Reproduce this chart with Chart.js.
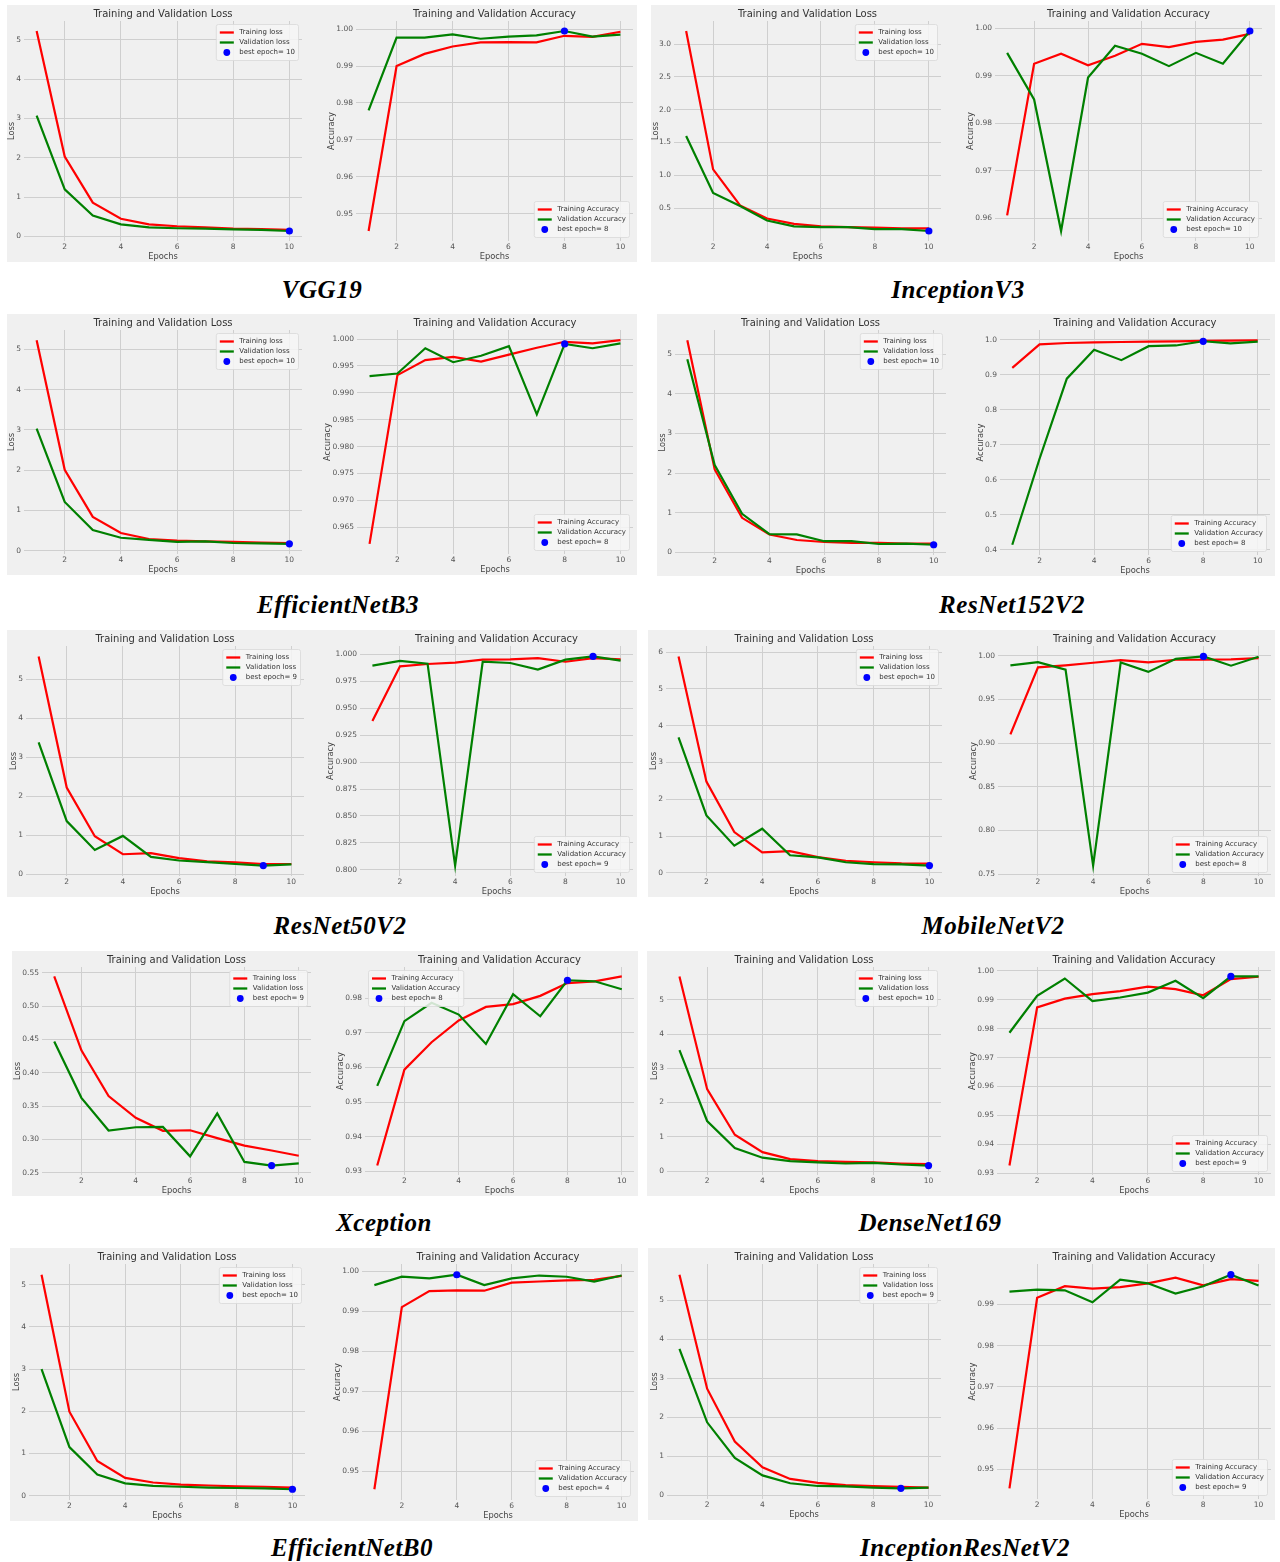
<!DOCTYPE html>
<html>
<head>
<meta charset="utf-8">
<title>Training and Validation curves</title>
<script src="https://cdn.jsdelivr.net/npm/chart.js@4.4.1/dist/chart.umd.min.js"></script>
<style>
html,body{margin:0;padding:0;background:#ffffff;}
body{position:relative;width:1280px;height:1562px;overflow:hidden;}
.panel{position:absolute;background:#f0f0f0;}
.panel canvas{position:absolute;top:0;}
.model{position:absolute;transform:translate(-50%,-50%);font-family:"Liberation Serif","DejaVu Serif",serif;font-weight:bold;font-style:italic;font-size:25px;letter-spacing:0.5px;color:#000;white-space:nowrap;line-height:1;}
</style>
</head>
<body>
<script>
// ---------------- DATA ----------------
const epochs = [1,2,3,4,5,6,7,8,9,10];
const epochTicks = [2,4,6,8,10];
const modelNames = ['VGG19','InceptionV3','EfficientNetB3','ResNet152V2','ResNet50V2','MobileNetV2','Xception','DenseNet169','EfficientNetB0','InceptionResNetV2'];

const vgg19TrainLoss = [5.22,2.03,0.86,0.45,0.31,0.26,0.23,0.20,0.19,0.17];
const vgg19ValLoss   = [3.07,1.20,0.53,0.31,0.23,0.21,0.20,0.18,0.17,0.14];
const vgg19TrainAcc  = [0.9453,0.9900,0.9933,0.9953,0.9964,0.9965,0.9964,0.9982,0.9979,0.9993];
const vgg19ValAcc    = [0.9780,0.9977,0.9977,0.9986,0.9974,0.9980,0.9983,0.9995,0.9980,0.9985];

const inceptionV3TrainLoss = [3.20,1.09,0.54,0.34,0.26,0.22,0.21,0.20,0.19,0.19];
const inceptionV3ValLoss   = [1.60,0.73,0.53,0.31,0.22,0.21,0.21,0.18,0.18,0.15];
const inceptionV3TrainAcc  = [0.9606,0.9925,0.9946,0.9922,0.9942,0.9967,0.9960,0.9971,0.9976,0.9988];
const inceptionV3ValAcc    = [0.9948,0.9850,0.9573,0.9896,0.9963,0.9946,0.9920,0.9948,0.9925,0.9994];

const effB3TrainLoss = [5.23,2.01,0.84,0.44,0.29,0.25,0.23,0.22,0.20,0.19];
const effB3ValLoss   = [3.03,1.21,0.51,0.32,0.27,0.22,0.23,0.19,0.18,0.17];
const effB3TrainAcc  = [0.9619,0.9933,0.9961,0.9967,0.9958,0.9971,0.9984,0.9995,0.9992,0.9998];
const effB3ValAcc    = [0.9931,0.9936,0.9983,0.9957,0.9969,0.9987,0.9860,0.9991,0.9983,0.9992];

const resNet152TrainLoss = [5.35,2.09,0.87,0.45,0.31,0.26,0.24,0.24,0.22,0.22];
const resNet152ValLoss   = [4.87,2.20,0.97,0.46,0.45,0.28,0.28,0.21,0.22,0.19];
const resNet152TrainAcc  = [0.920,0.987,0.991,0.993,0.994,0.995,0.996,0.997,0.998,0.999];
const resNet152ValAcc    = [0.414,0.660,0.889,0.972,0.942,0.982,0.984,0.996,0.990,0.995];

const resNet50TrainLoss = [5.58,2.22,0.97,0.51,0.54,0.41,0.33,0.30,0.26,0.26];
const resNet50ValLoss   = [3.38,1.36,0.62,0.98,0.44,0.35,0.31,0.26,0.22,0.25];
const resNet50TrainAcc  = [0.9382,0.9889,0.9911,0.9923,0.9951,0.9954,0.9966,0.9932,0.9966,0.9954];
const resNet50ValAcc    = [0.9896,0.9939,0.9914,0.8040,0.9932,0.9920,0.9859,0.9951,0.9981,0.9942];

const mobileNetTrainLoss = [5.88,2.48,1.11,0.56,0.59,0.43,0.33,0.29,0.26,0.25];
const mobileNetValLoss   = [3.68,1.56,0.74,1.20,0.48,0.42,0.29,0.24,0.23,0.20];
const mobileNetTrainAcc  = [0.9100,0.9868,0.9891,0.9921,0.9951,0.9925,0.9955,0.9955,0.9959,0.9974];
const mobileNetValAcc    = [0.9891,0.9928,0.9842,0.7598,0.9925,0.9816,0.9966,0.9993,0.9887,0.9989];

const xceptionTrainLoss = [0.5446,0.4337,0.3650,0.3325,0.3129,0.3138,0.3020,0.2908,0.2834,0.2755];
const xceptionValLoss   = [0.4469,0.3624,0.3134,0.3183,0.3188,0.2746,0.3389,0.2662,0.2608,0.2642];
const xceptionTrainAcc  = [0.9317,0.9594,0.9673,0.9736,0.9775,0.9783,0.9807,0.9844,0.9849,0.9863];
const xceptionValAcc    = [0.9547,0.9734,0.9787,0.9753,0.9668,0.9812,0.9748,0.9852,0.9849,0.9826];

const denseNetTrainLoss = [5.68,2.39,1.06,0.55,0.35,0.29,0.27,0.25,0.22,0.20];
const denseNetValLoss   = [3.53,1.46,0.67,0.39,0.29,0.25,0.22,0.24,0.19,0.16];
const denseNetTrainAcc  = [0.9326,0.9874,0.9904,0.9920,0.9930,0.9946,0.9937,0.9916,0.9972,0.9980];
const denseNetValAcc    = [0.9786,0.9914,0.9974,0.9896,0.9908,0.9925,0.9966,0.9906,0.9981,0.9981];

const effB0TrainLoss = [5.24,1.99,0.82,0.42,0.31,0.26,0.24,0.22,0.21,0.19];
const effB0ValLoss   = [3.00,1.15,0.50,0.29,0.23,0.21,0.19,0.18,0.17,0.15];
const effB0TrainAcc  = [0.9455,0.9911,0.9951,0.9953,0.9952,0.9972,0.9975,0.9978,0.9979,0.9989];
const effB0ValAcc    = [0.9966,0.9987,0.9983,0.9992,0.9966,0.9983,0.9990,0.9987,0.9975,0.9990];

const incResNetTrainLoss = [5.65,2.73,1.38,0.72,0.42,0.32,0.26,0.24,0.22,0.20];
const incResNetValLoss   = [3.75,1.87,0.96,0.51,0.31,0.24,0.23,0.20,0.18,0.20];
const incResNetTrainAcc  = [0.9454,0.9916,0.9944,0.9938,0.9942,0.9951,0.9965,0.9946,0.9961,0.9957];
const incResNetValAcc    = [0.9931,0.9936,0.9934,0.9905,0.9960,0.9951,0.9926,0.9944,0.9972,0.9946];

const bestLossEpoch = [10,10,10,10,9,10,9,10,10,9];
const bestAccEpoch  = [8,10,8,8,9,8,8,9,4,9];

// tick labels
const lossTicks0to5 = [0,1,2,3,4,5];
const lossTicks0to6 = [0,1,2,3,4,5,6];
const lossTicksInceptionV3 = [0.5,1.0,1.5,2.0,2.5,3.0];
const lossTicksXception = [0.25,0.30,0.35,0.40,0.45,0.50,0.55];
const accTicksVGG19 = [0.95,0.96,0.97,0.98,0.99,1.00];
const accTicksInceptionV3 = [0.96,0.97,0.98,0.99,1.00];
const accTicksEffB3 = [0.960,0.965,0.970,0.975,0.980,0.985,0.990,0.995,1.000];
const accTicksResNet152 = [0.4,0.5,0.6,0.7,0.8,0.9,1.0];
const accTicksResNet50 = [0.800,0.825,0.850,0.875,0.900,0.925,0.950,0.975,1.000];
const accTicksMobileNet = [0.75,0.80,0.85,0.90,0.95,1.00];
const accTicksXception = [0.93,0.94,0.95,0.96,0.97,0.98];
const accTicksDenseNet = [0.93,0.94,0.95,0.96,0.97,0.98,0.99,1.00];
const accTicksEffB0 = [0.95,0.96,0.97,0.98,0.99,1.00];
const accTicksIncResNet = [0.95,0.96,0.97,0.98,0.99];

const accLegendPos = ['lr','lr','lr','lr','lr','lr','ul','lr','lr','lr'];

const series = [
  [vgg19TrainLoss, vgg19ValLoss, vgg19TrainAcc, vgg19ValAcc, lossTicks0to5, accTicksVGG19],
  [inceptionV3TrainLoss, inceptionV3ValLoss, inceptionV3TrainAcc, inceptionV3ValAcc, lossTicksInceptionV3, accTicksInceptionV3],
  [effB3TrainLoss, effB3ValLoss, effB3TrainAcc, effB3ValAcc, lossTicks0to5, accTicksEffB3],
  [resNet152TrainLoss, resNet152ValLoss, resNet152TrainAcc, resNet152ValAcc, lossTicks0to5, accTicksResNet152],
  [resNet50TrainLoss, resNet50ValLoss, resNet50TrainAcc, resNet50ValAcc, lossTicks0to5, accTicksResNet50],
  [mobileNetTrainLoss, mobileNetValLoss, mobileNetTrainAcc, mobileNetValAcc, lossTicks0to6, accTicksMobileNet],
  [xceptionTrainLoss, xceptionValLoss, xceptionTrainAcc, xceptionValAcc, lossTicksXception, accTicksXception],
  [denseNetTrainLoss, denseNetValLoss, denseNetTrainAcc, denseNetValAcc, lossTicks0to5, accTicksDenseNet],
  [effB0TrainLoss, effB0ValLoss, effB0TrainAcc, effB0ValAcc, lossTicks0to5, accTicksEffB0],
  [incResNetTrainLoss, incResNetValLoss, incResNetTrainAcc, incResNetValAcc, lossTicks0to5, accTicksIncResNet]
];

// ---------------- LAYOUT ----------------
const layout = [
  {x:7,  y:5,    w:630, h:257, lossL:17, lossR:295, accL:349, accR:627, lx:322,  ly:289},
  {x:651,y:5,    w:624, h:257, lossL:23, lossR:290, accL:344, accR:611, lx:958,  ly:289},
  {x:7,  y:314,  w:630, h:261, lossL:17, lossR:295, accL:350, accR:628, lx:338,  ly:604},
  {x:657,y:314,  w:618, h:262, lossL:18, lossR:289, accL:343, accR:613, lx:1012, ly:604},
  {x:7,  y:630,  w:630, h:267, lossL:19, lossR:297, accL:353, accR:628, lx:340,  ly:925},
  {x:648,y:630,  w:627, h:267, lossL:18, lossR:294, accL:350, accR:624, lx:993,  ly:925},
  {x:12, y:951,  w:626, h:245, lossL:30, lossR:299, accL:353, accR:622, lx:384,  ly:1222},
  {x:647,y:951,  w:628, h:245, lossL:20, lossR:294, accL:350, accR:624, lx:930,  ly:1222},
  {x:10, y:1248, w:628, h:273, lossL:19, lossR:295, accL:352, accR:625, lx:352,  ly:1547},
  {x:648,y:1248, w:627, h:272, lossL:19, lossR:293, accL:349, accR:623, lx:965,  ly:1547}
];

const FONT = '"DejaVu Sans", "Liberation Sans", sans-serif';
const TITLE_SIZE = 10, TICK_SIZE = 7.5, AXIS_TITLE_SIZE = 8.3, LEGEND_SIZE = 7;
const GRID = '#cfcfcf';
const TICK_COLOR = '#555555';

const measureCtx = document.createElement('canvas').getContext('2d');
function decimalsOf(ticks){
  return Math.max(...ticks.map(v=>{const s=String(v);const i=s.indexOf('.');return i<0?0:s.length-i-1;}));
}

const insideLegend = {
  id:'insideLegend',
  afterDatasetsDraw(chart, args, opts){
    const ctx = chart.ctx, ca = chart.chartArea;
    const ds = chart.data.datasets;
    ctx.save();
    ctx.font = LEGEND_SIZE + 'px ' + FONT;
    const handleLen = 14, handlePad = 5.5, pad = 3.5, rowH = 10, margin = 3.5;
    const textW = Math.max(...ds.map(d=>ctx.measureText(d.label).width));
    const w = pad + handleLen + handlePad + textW + pad;
    const h = pad*2 + rowH*ds.length - 1;
    const x = opts.pos.indexOf('r') >= 0 ? ca.right - margin - w : ca.left + margin;
    const y = opts.pos.charAt(0) === 'u' ? ca.top + margin : ca.bottom - margin - h;
    ctx.beginPath();
    if (ctx.roundRect) ctx.roundRect(x, y, w, h, 2); else ctx.rect(x, y, w, h);
    ctx.fillStyle = 'rgba(246,246,246,0.85)';
    ctx.fill();
    ctx.strokeStyle = '#d8d8d8';
    ctx.lineWidth = 0.8;
    ctx.stroke();
    ds.forEach((d,i)=>{
      const cy = y + pad + rowH*i + rowH/2 - 0.5;
      const hx = x + pad;
      if (d.showLine === false){
        ctx.beginPath();
        ctx.arc(hx + handleLen/2, cy, 3.4, 0, Math.PI*2);
        ctx.fillStyle = d.pointBackgroundColor;
        ctx.fill();
      } else {
        ctx.beginPath();
        ctx.moveTo(hx, cy); ctx.lineTo(hx + handleLen, cy);
        ctx.strokeStyle = d.borderColor;
        ctx.lineWidth = 2.3;
        ctx.stroke();
      }
      ctx.fillStyle = '#333333';
      ctx.textBaseline = 'middle';
      ctx.textAlign = 'left';
      ctx.fillText(d.label, hx + handleLen + handlePad, cy);
    });
    ctx.restore();
  }
};

function makeChart(panelEl, canvasLeft, canvasWidth, h, plotL, plotR, c){
  const cv = document.createElement('canvas');
  cv.width = canvasWidth; cv.height = h;
  cv.style.left = canvasLeft + 'px';
  cv.style.width = canvasWidth + 'px';
  cv.style.height = h + 'px';
  panelEl.appendChild(cv);
  const dec = decimalsOf(c.ticks);
  const fmt = v => Number(v).toFixed(dec);
  measureCtx.font = TICK_SIZE + 'px ' + FONT;
  const labelW = Math.max(...c.ticks.map(v=>measureCtx.measureText(fmt(v)).width));
  const all = c.train.concat(c.val);
  const lo = Math.min(...all), hi = Math.max(...all), m = (hi-lo)*0.05;
  const yMin = lo - m, yMax = hi + m;
  const yTicks = c.ticks.filter(v => v >= yMin - 1e-9 && v <= yMax + 1e-9);
  const axisW = plotL - canvasLeft;
  const titleCenter = axisW - labelW - 7.4;
  const yTitlePadTop = Math.max(0, titleCenter - AXIS_TITLE_SIZE*1.2/2);
  const bestVal = c.val[c.bestEpoch - 1];
  return new Chart(cv, {
    type:'line',
    data:{datasets:[
      {label:c.trainLabel, data:epochs.map((e,i)=>({x:e,y:c.train[i]})), borderColor:'#ff0000', backgroundColor:'#ff0000', borderWidth:2.2, pointRadius:0, tension:0, order:3, clip:false},
      {label:c.valLabel, data:epochs.map((e,i)=>({x:e,y:c.val[i]})), borderColor:'#008000', backgroundColor:'#008000', borderWidth:2.2, pointRadius:0, tension:0, order:2, clip:false},
      {label:'best epoch= ' + c.bestEpoch, data:[{x:c.bestEpoch, y:bestVal}], showLine:false, pointRadius:3.6, pointBorderWidth:0, pointBackgroundColor:'#0000ff', pointBorderColor:'#0000ff', borderColor:'#0000ff', backgroundColor:'#0000ff', order:1, clip:false}
    ]},
    options:{
      responsive:false, animation:false, devicePixelRatio:1,
      layout:{padding:{left:0, right:(canvasLeft + canvasWidth) - plotR, top:0, bottom:0}},
      scales:{
        x:{type:'linear', min:0.55, max:10.45, bounds:'data',
          afterBuildTicks: ax => { ax.ticks = epochTicks.map(v=>({value:v})); },
          afterFit: ax => { ax.height = 21; },
          grid:{color:GRID, lineWidth:1, drawTicks:false}, border:{display:false},
          ticks:{font:{family:FONT, size:TICK_SIZE}, color:TICK_COLOR, padding:2, maxRotation:0, autoSkip:false, callback:v=>String(v)},
          title:{display:true, text:'Epochs', font:{family:FONT, size:AXIS_TITLE_SIZE}, color:'#444444', padding:{top:0, bottom:0.5}}
        },
        y:{type:'linear', min:yMin, max:yMax, bounds:'data',
          afterBuildTicks: ax => { ax.ticks = yTicks.map(v=>({value:v})); },
          afterFit: ax => { ax.width = axisW; },
          grid:{color:GRID, lineWidth:1, drawTicks:false}, border:{display:false},
          ticks:{font:{family:FONT, size:TICK_SIZE}, color:TICK_COLOR, padding:3, autoSkip:false, callback:v=>fmt(v)},
          title:{display:true, text:c.yTitle, font:{family:FONT, size:AXIS_TITLE_SIZE}, color:'#444444', padding:{top:yTitlePadTop, bottom:0}}
        }
      },
      plugins:{
        legend:{display:false},
        tooltip:{enabled:false},
        title:{display:true, text:c.title, fullSize:false, font:{family:FONT, size:TITLE_SIZE, weight:'normal'}, color:'#333333', padding:{top:3, bottom:1}},
        insideLegend:{pos:c.legendPos}
      }
    },
    plugins:[insideLegend]
  });
}

layout.forEach((p, i) => {
  const el = document.createElement('div');
  el.className = 'panel';
  el.style.left = p.x + 'px'; el.style.top = p.y + 'px';
  el.style.width = p.w + 'px'; el.style.height = p.h + 'px';
  document.body.appendChild(el);
  const s = series[i];
  const split = Math.round(p.lossR + 10);
  makeChart(el, 0, split, p.h, p.lossL, p.lossR, {
    title:'Training and Validation Loss', yTitle:'Loss',
    train:s[0], val:s[1], trainLabel:'Training loss', valLabel:'Validation loss',
    bestEpoch:bestLossEpoch[i], ticks:s[4], legendPos:'ur'
  });
  makeChart(el, split, p.w - split, p.h, p.accL, p.accR, {
    title:'Training and Validation Accuracy', yTitle:'Accuracy',
    train:s[2], val:s[3], trainLabel:'Training Accuracy', valLabel:'Validation Accuracy',
    bestEpoch:bestAccEpoch[i], ticks:s[5], legendPos:accLegendPos[i]
  });
  const lab = document.createElement('div');
  lab.className = 'model';
  lab.textContent = modelNames[i];
  lab.style.left = p.lx + 'px'; lab.style.top = p.ly + 'px';
  document.body.appendChild(lab);
});
</script>
</body>
</html>
